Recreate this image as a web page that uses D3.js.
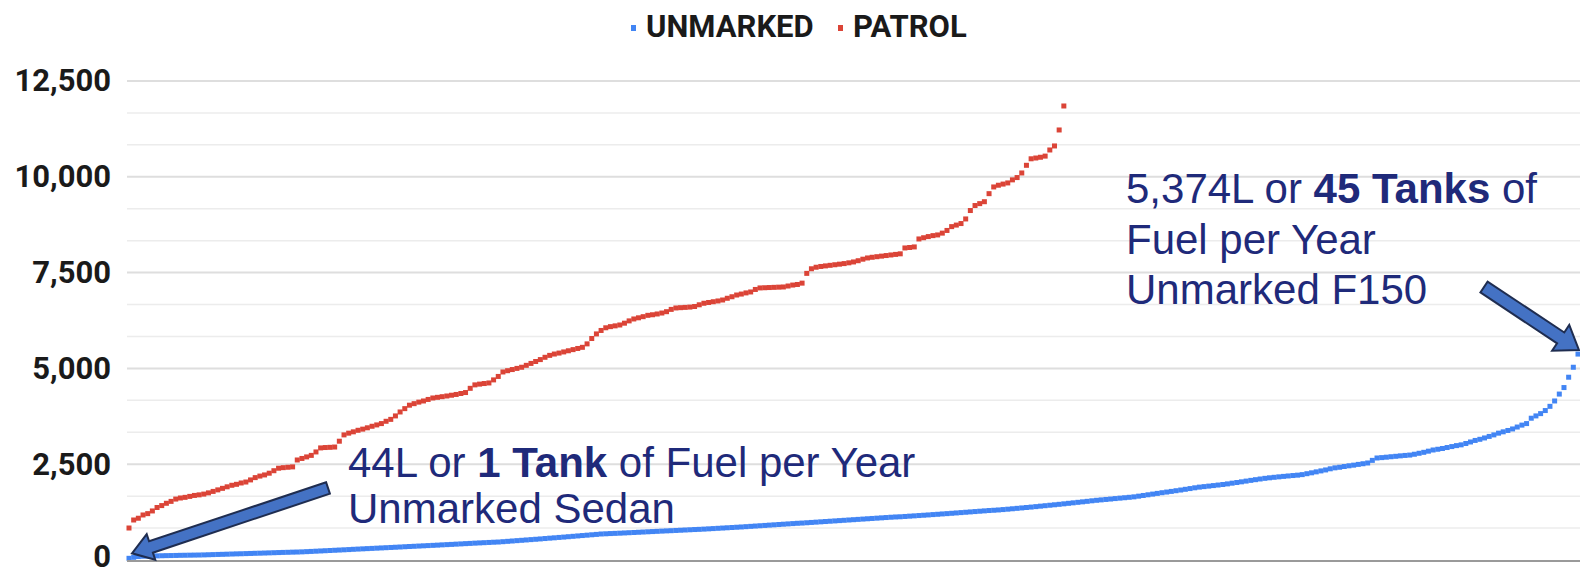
<!DOCTYPE html>
<html><head><meta charset="utf-8">
<script src="https://cdn.jsdelivr.net/npm/d3@7"></script>
<style>body{margin:0;background:#fff}svg{display:block}</style>
</head><body><svg id="c" width="1580" height="570"></svg>
<script>
const seriesNames = ["UNMARKED", "PATROL"];
const seriesColors = ["#4285f4", "#db4437"];
const yTicks = [0, 2500, 5000, 7500, 10000, 12500];
const unmarked = [
44,70,90,98,102,105,108,111,114,116,119,122,124,126,128,130,
133,137,141,145,148,152,156,160,163,167,171,175,178,182,186,190,194,198,201,205,208,
212,218,224,230,236,242,248,254,260,266,272,279,285,291,297,303,309,315,321,327,333,339,
346,352,358,364,370,376,382,388,395,401,407,414,420,427,433,440,446,452,458,464,469,
478,487,496,505,514,523,532,541,550,560,570,579,589,598,608,618,628,638,648,658,668,679,
684,690,695,700,706,712,718,724,730,736,742,748,754,760,765,771,777,783,789,795,800,
806,813,820,827,834,841,848,855,862,870,878,886,894,902,910,918,926,934,942,950,958,
964,972,980,988,996,1004,1012,1020,1028,1036,1044,1052,1060,1068,1076,1084,1092,1100,1108,1116,1123,
1128,1136,1144,1152,1160,1168,1176,1185,1193,1202,1210,1219,1228,1237,1246,1255,1264,1273,1282,1291,1298,1306,
1316,1326,1337,1348,1359,1370,1381,1393,1405,1417,1429,1441,1453,1466,1479,1492,1505,1518,1531,1545,1558,
1569,1580,1591,1603,1614,1625,1636,1648,1666,1684,1702,1720,1738,1756,1773,1790,1808,1826,1845,1864,1884,
1902,1915,1928,1942,1956,1970,1986,2005,2022,2040,2059,2078,2096,2114,2131,2145,2158,2170,2182,2193,2204,2214,
2228,2252,2275,2300,2325,2350,2380,2405,2420,2440,2458,2475,2495,2512,2532,2600,2662,2672,2683,2695,2706,
2718,2729,2738,2760,2785,2810,2840,2871,2890,2910,2935,2960,2985,3005,3040,3080,3120,3150,3185,3225,3265,
3310,3345,3380,3420,3470,3520,3560,3700,3760,3820,3900,4010,4150,4330,4500,4770,5030,5374
];
const patrol = [
835,1044,1090,1175,1210,1280,1370,1420,1480,1530,
1590,1618,1635,1660,1685,1700,1720,1752,1790,1830,
1870,1910,1950,1975,2010,2035,2090,2150,2190,2220,
2265,2330,2395,2410,2420,2430,2610,2650,2690,2730,
2820,2925,2935,2940,2948,3100,3265,3310,3345,3385,
3415,3450,3490,3525,3560,3620,3670,3760,3863,3950,
4040,4080,4120,4150,4190,4228,4245,4262,4280,4300,
4320,4345,4370,4480,4570,4590,4605,4620,4700,4790,
4907,4940,4970,5000,5030,5080,5130,5180,5230,5290,
5340,5375,5400,5430,5460,5490,5520,5550,5640,5780,
5900,5990,6060,6090,6110,6133,6180,6240,6290,6320,
6350,6385,6400,6420,6445,6480,6540,6577,6585,6592,
6600,6615,6660,6700,6720,6740,6760,6785,6830,6870,
6915,6940,6970,6995,7060,7100,7105,7110,7115,7120,
7125,7150,7175,7190,7225,7480,7600,7640,7660,7675,
7690,7705,7720,7735,7755,7778,7810,7850,7882,7900,
7915,7930,7945,7960,7975,7990,8143,8155,8170,8378,
8410,8440,8465,8483,8530,8600,8700,8740,8780,8900,
9120,9250,9300,9350,9560,9735,9780,9810,9840,9920,
9980,10100,10300,10470,10490,10510,10540,10700,10805,11222,
11848
];
const annot1 = [[["44L or ", false], ["1 Tank", true], [" of Fuel per Year", false]], [["Unmarked Sedan", false]]];
const annot2 = [[["5,374L or ", false], ["45 Tanks", true], [" of", false]], [["Fuel per Year", false]], [["Unmarked F150", false]]];

const svg = d3.select("#c");
const W = 1580;
const x = d3.scaleLinear().domain([0, unmarked.length - 1]).range([129, 1578]);
const y = d3.scaleLinear().domain([0, 12500]).range([560, 81]);
const gridLeft = 127;

// minor + major gridlines
const minor = d3.range(0, 12501, 2500 / 3).filter(v => !yTicks.some(t => Math.abs(t - v) < 1));
svg.append("g").selectAll("line").data(minor).join("line")
  .attr("x1", gridLeft).attr("x2", W).attr("y1", d => y(d)).attr("y2", d => y(d))
  .attr("stroke", "#ececec").attr("stroke-width", 1.5);
svg.append("g").selectAll("line").data(yTicks.filter(t => t > 0)).join("line")
  .attr("x1", gridLeft).attr("x2", W).attr("y1", d => y(d)).attr("y2", d => y(d))
  .attr("stroke", "#dedede").attr("stroke-width", 2);

// y axis labels
const yAxis = d3.axisLeft(y).tickValues(yTicks).tickFormat(d3.format(",")).tickSize(0).tickPadding(0);
const ga = svg.append("g").attr("transform", "translate(111,0)").call(yAxis);
ga.select(".domain").remove();
ga.selectAll("text").attr("font-family", "Roboto, sans-serif").attr("font-weight", "bold")
  .attr("font-size", 31).attr("fill", "#1a1a1a").attr("dy", d => d === 0 ? "0.2em" : "0.32em");

// series
const ms = 5;
[unmarked, patrol].forEach((arr, si) => {
  svg.append("g").selectAll("rect").data(arr).join("rect")
    .attr("x", (d, i) => x(i) - ms / 2).attr("y", d => y(d) - ms / 2)
    .attr("width", ms).attr("height", ms).attr("fill", seriesColors[si]);
});

// baseline
svg.append("line").attr("x1", gridLeft).attr("x2", W).attr("y1", y(0) + 1).attr("y2", y(0) + 1)
  .attr("stroke", "#9a9a9a").attr("stroke-width", 2);

// legend
const legX = [634, 841];
const leg = svg.append("g");
seriesNames.forEach((n, i) => {
  leg.append("rect").attr("x", legX[i] - 3).attr("y", 25).attr("width", 5).attr("height", 6).attr("fill", seriesColors[i]);
  leg.append("text").attr("x", legX[i] + 12).attr("y", 37).text(n)
    .attr("font-family", "Roboto, sans-serif").attr("font-weight", "bold").attr("font-size", 31).attr("fill", "#1a1a1a");
});

// block arrows
function blockArrow(tail, tip, shaftW, headW, headL) {
  const dx = tip[0] - tail[0], dy = tip[1] - tail[1];
  const L = Math.hypot(dx, dy), ux = dx / L, uy = dy / L, px = -uy, py = ux;
  const b = [tip[0] - ux * headL, tip[1] - uy * headL];
  const pts = [
    [tail[0] + px * shaftW / 2, tail[1] + py * shaftW / 2],
    [b[0] + px * shaftW / 2, b[1] + py * shaftW / 2],
    [b[0] + px * headW / 2, b[1] + py * headW / 2],
    tip,
    [b[0] - px * headW / 2, b[1] - py * headW / 2],
    [b[0] - px * shaftW / 2, b[1] - py * shaftW / 2],
    [tail[0] - px * shaftW / 2, tail[1] - py * shaftW / 2]
  ];
  svg.append("path").attr("d", "M" + pts.map(p => p.join(",")).join("L") + "Z")
    .attr("fill", "#4472c4").attr("stroke", "#1f2d50").attr("stroke-width", 2).attr("stroke-linejoin", "miter");
}
const first = [x(0), y(unmarked[0])];
const last = [x(unmarked.length - 1), y(unmarked[unmarked.length - 1])];
blockArrow([328, 488], [first[0] + 3, first[1] - 5], 12, 27, 20);
blockArrow([1484, 287], [last[0] + 1, last[1] - 4], 13, 31, 22);

// annotations
function annot(lines, x0, y0, lh) {
  const t = svg.append("text").attr("font-family", "'Liberation Sans', Arial, sans-serif")
    .attr("font-size", 42).attr("fill", "#1f2a7a");
  lines.forEach((segs, li) => {
    segs.forEach((s, si) => {
      const ts = t.append("tspan").text(s[0]).attr("font-weight", s[1] ? "bold" : "normal").style("white-space", "pre");
      if (si === 0) ts.attr("x", x0).attr("y", y0 + li * lh);
    });
  });
  t.attr("xml:space", "preserve");
}
annot(annot1, 348, 477, 46);
annot(annot2, 1126, 203, 50.5);
</script></body></html>
